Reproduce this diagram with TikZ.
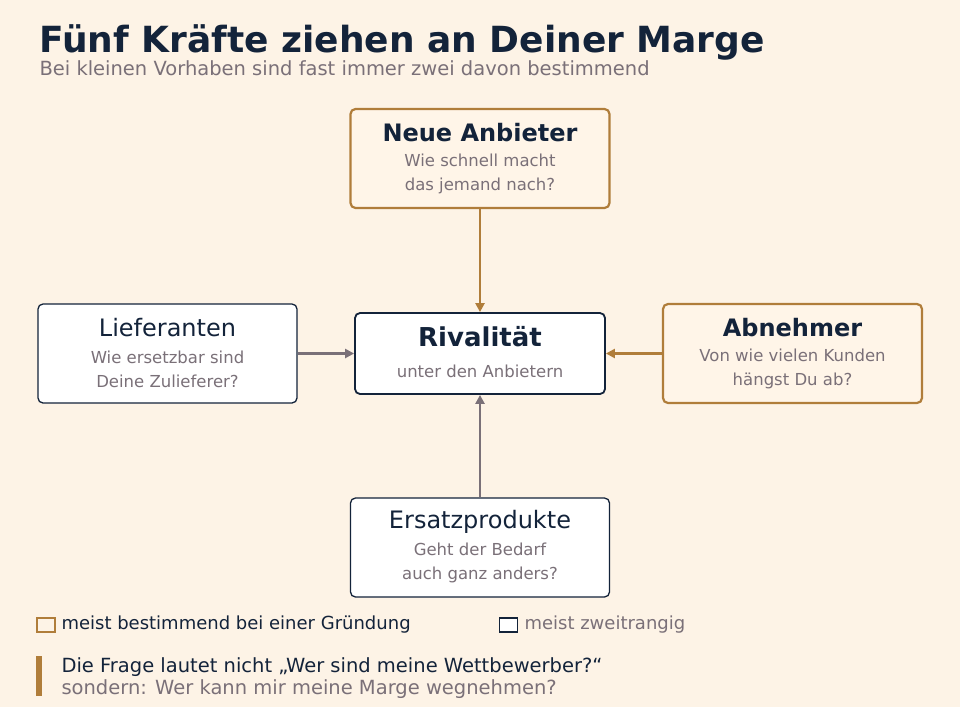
\documentclass[tikz,border=0pt]{standalone}
\usepackage{fontspec}
\setmainfont{DejaVu Sans}
\usetikzlibrary{arrows.meta}
\definecolor{bg}{HTML}{FDF3E6}
\definecolor{navy}{HTML}{13233A}
\definecolor{gry}{HTML}{7A7078}
\definecolor{org}{HTML}{B07D3A}
\definecolor{cream}{HTML}{FFF5E8}
\tikzset{
 box/.style={draw=navy,fill=white,line width=1.3pt,rounded corners=5pt,minimum width=259pt,minimum height=99pt},
 obox/.style={box,draw=org,fill=cream,line width=2.2pt},
 arr/.style={-{Triangle[length=9pt,width=9pt]},line width=2.5pt},
 ttl/.style={text=navy,font=\fontsize{24}{28}\selectfont},
 sub/.style={text=gry,font=\fontsize{16.5}{24}\selectfont,align=center},
}
\begin{document}
\begin{tikzpicture}[x=1pt,y=-1pt]
\fill[bg] (0,0) rectangle (960,707);
\useasboundingbox (0,0) rectangle (960,707);
\node[anchor=base west,text=navy,font=\fontsize{36}{40}\selectfont\bfseries] (t) at (36,52) {Fünf Kräfte ziehen an Deiner Marge};
\node[anchor=base west,text=gry,font=\fontsize{19.5}{22}\selectfont] (st) at (36,75) {Bei kleinen Vorhaben sind fast immer zwei davon bestimmend};
% boxes
\node[obox] (na) at (480,158.5) {};
\node[ttl,font=\fontsize{24}{28}\selectfont\bfseries] at (480,133) {Neue Anbieter};
\node[sub] at (480,174) {Wie schnell macht\\das jemand nach?};
\node[box] (li) at (167.5,353.5) {};
\node[ttl] at (167.5,328) {Lieferanten};
\node[sub] at (167.5,369) {Wie ersetzbar sind\\Deine Zulieferer?};
\node[box,minimum width=250pt,minimum height=81pt,line width=1.8pt] (ri) at (480,353.5) {};
\node[ttl,font=\fontsize{26}{30}\selectfont\bfseries] at (480,337) {Rivalität};
\node[sub] at (480,371) {unter den Anbietern};
\node[obox] (ab) at (792.5,353.5) {};
\node[ttl,font=\fontsize{24}{28}\selectfont\bfseries] at (792.5,328) {Abnehmer};
\node[sub] at (792.5,369) {Von wie vielen Kunden\\hängst Du ab?};
\node[box] (er) at (480,547.5) {};
\node[ttl] at (480,522) {Ersatzprodukte};
\node[sub] at (480,563) {Geht der Bedarf\\auch ganz anders?};
% arrows
\draw[arr,org] (na.south) -- (ri.north);
\draw[arr,gry] (li.east) -- (ri.west);
\draw[arr,org] (ab.west) -- (ri.east);
\draw[arr,gry] (er.north) -- (ri.south);
% legend
\node[draw=org,line width=2pt,minimum width=18pt,minimum height=14pt,inner sep=0pt] (l1) at (45.5,625) {};
\node[anchor=west,text=navy,font=\fontsize{18}{22}\selectfont] at (58,625) {meist bestimmend bei einer Gründung};
\node[draw=navy,fill=white,line width=1.3pt,minimum width=18pt,minimum height=14pt,inner sep=0pt] (l2) at (508.5,625) {};
\node[anchor=west,text=gry,font=\fontsize{18}{22}\selectfont] at (521,625) {meist zweitrangig};
% quote
\fill[org] (36,656) rectangle (42,696);
\node[anchor=base west,text=navy,font=\fontsize{19.5}{22}\selectfont] at (58,672) {Die Frage lautet nicht „Wer sind meine Wettbewerber?“};
\node[anchor=base west,text=gry,font=\fontsize{19.5}{22}\selectfont] at (58,694) {sondern: Wer kann mir meine Marge wegnehmen?};
\end{tikzpicture}
\end{document}
